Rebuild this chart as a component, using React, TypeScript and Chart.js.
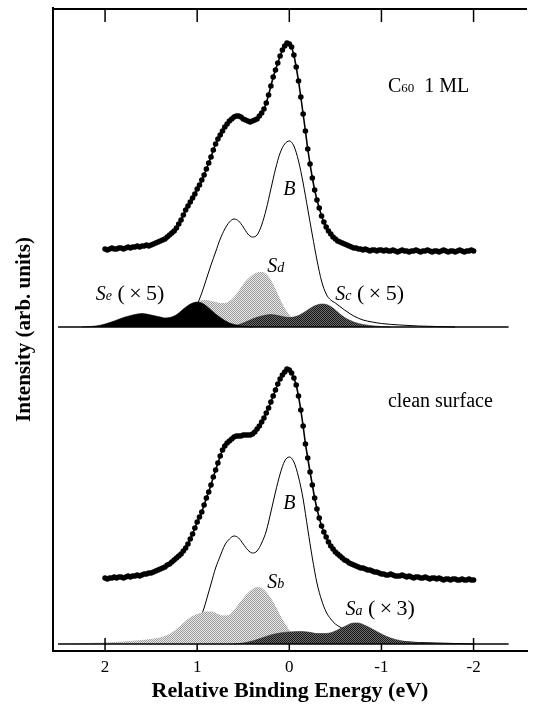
import { useEffect, useRef } from "react";
import { Chart, registerables } from "chart.js";

Chart.register(...registerables);

// Relative binding energy grid of the measured spectra (eV)
const energy = [
  2.0, 1.975, 1.95, 1.925, 1.9, 1.875, 1.85, 1.825, 1.8, 1.775,
  1.75, 1.725, 1.7, 1.675, 1.65, 1.625, 1.6, 1.575, 1.55, 1.525,
  1.5, 1.475, 1.45, 1.425, 1.4, 1.375, 1.35, 1.325, 1.3, 1.275,
  1.25, 1.225, 1.2, 1.175, 1.15, 1.125, 1.1, 1.075, 1.05, 1.025,
  1.0, 0.975, 0.95, 0.925, 0.9, 0.875, 0.85, 0.825, 0.8, 0.775,
  0.75, 0.725, 0.7, 0.675, 0.65, 0.625, 0.6, 0.575, 0.55, 0.525,
  0.5, 0.475, 0.45, 0.425, 0.4, 0.375, 0.35, 0.325, 0.3, 0.275,
  0.25, 0.225, 0.2, 0.175, 0.15, 0.125, 0.1, 0.075, 0.05, 0.025,
  0.0, -0.025, -0.05, -0.075, -0.1, -0.125, -0.15, -0.175, -0.2, -0.225,
  -0.25, -0.275, -0.3, -0.325, -0.35, -0.375, -0.4, -0.425, -0.45, -0.475,
  -0.5, -0.525, -0.55, -0.575, -0.6, -0.625, -0.65, -0.675, -0.7, -0.725,
  -0.75, -0.775, -0.8, -0.825, -0.85, -0.875, -0.9, -0.925, -0.95, -0.975,
  -1.0, -1.025, -1.05, -1.075, -1.1, -1.125, -1.15, -1.175, -1.2, -1.225,
  -1.25, -1.275, -1.3, -1.325, -1.35, -1.375, -1.4, -1.425, -1.45, -1.475,
  -1.5, -1.525, -1.55, -1.575, -1.6, -1.625, -1.65, -1.675, -1.7, -1.725,
  -1.75, -1.775, -1.8, -1.825, -1.85, -1.875, -1.9, -1.925, -1.95, -1.975,
  -2.0,
];

// C60 1 ML spectrum (arb. units)
const c60Data = [
  78, 77, 78, 79, 78, 78, 79, 79, 78, 79,
  80, 79, 80, 80, 81, 80, 81, 81, 82, 81,
  82, 83, 84, 85, 86, 87, 88, 90, 92, 94,
  96, 99, 103, 107, 112, 117, 121, 125, 129, 133,
  138, 142, 147, 152, 158, 164, 170, 177, 183, 188,
  192, 196, 200, 203, 206, 208, 210, 211, 211, 210,
  208, 207, 206, 205, 206, 207, 208, 211, 214, 218,
  224, 232, 241, 250, 257, 264, 271, 277, 281, 284,
  283, 280, 272, 260, 246, 230, 213, 196, 178, 163,
  149, 137, 127, 119, 111, 105, 100, 96, 93, 90,
  88, 86, 85, 84, 83, 82, 81, 80, 79, 79,
  78, 78, 77, 78, 77, 76, 77, 77, 76, 77,
  77, 76, 77, 76, 76, 77, 76, 75, 76, 77,
  76, 76, 75, 76, 76, 77, 76, 75, 76, 76,
  77, 76, 75, 76, 76, 75, 76, 77, 76, 75,
  76, 76, 75, 76, 77, 76, 75, 76, 76, 77,
  76,
];

// clean surface spectrum (arb. units)
const cleanData = [
  66, 65, 66, 66, 67, 66, 67, 67, 66, 67,
  68, 67, 68, 68, 69, 68, 69, 70, 70, 71,
  71, 72, 73, 74, 75, 76, 77, 79, 80, 82,
  84, 86, 88, 90, 93, 96, 100, 105, 110, 116,
  122, 127, 132, 139, 146, 152, 159, 167, 174, 181,
  188, 194, 198, 201, 203, 205, 207, 208, 208, 208,
  209, 209, 209, 209, 210, 212, 215, 218, 222, 226,
  231, 236, 242, 248, 254, 260, 265, 269, 272, 275,
  274, 271, 266, 259, 248, 234, 218, 200, 186, 172,
  159, 146, 135, 126, 118, 112, 107, 102, 98, 95,
  92, 90, 88, 86, 84, 83, 81, 80, 79, 78,
  77, 76, 76, 75, 74, 74, 73, 72, 72, 71,
  70, 70, 69, 69, 70, 69, 68, 68, 68, 69,
  68, 67, 68, 67, 66, 67, 67, 66, 66, 67,
  66, 65, 66, 66, 65, 66, 65, 64, 65, 65,
  64, 65, 65, 64, 64, 65, 64, 64, 65, 64,
  64,
];

// Fitted components [energy, intensity]
const bC60 = [
  [1.1, 6], [1.05, 14], [1.0, 22], [0.975, 28], [0.95, 34], [0.9, 48], [0.85, 62], [0.8, 75],
  [0.75, 88], [0.7, 98], [0.65, 105], [0.6, 108], [0.55, 106], [0.5, 100], [0.45, 93], [0.4, 90],
  [0.35, 92], [0.3, 102], [0.25, 118], [0.2, 138], [0.15, 158], [0.1, 174], [0.05, 183], [0.0, 186],
  [-0.05, 181], [-0.1, 166], [-0.15, 144], [-0.2, 118], [-0.25, 92], [-0.3, 67], [-0.35, 46],
  [-0.4, 33], [-0.45, 27], [-0.5, 24], [-0.55, 20.5], [-0.6, 17], [-0.7, 11], [-0.8, 7], [-0.9, 5],
  [-1.0, 3.5], [-1.2, 2], [-1.4, 1], [-1.6, 0.5], [-1.8, 0],
];
const sdC60 = [
  [1.3, 0], [1.2, 4], [1.1, 12], [1.0, 22], [0.95, 27], [0.9, 27], [0.85, 26], [0.8, 25], [0.75, 24],
  [0.7, 24], [0.65, 26], [0.6, 30], [0.55, 36], [0.5, 43], [0.45, 48], [0.4, 52], [0.35, 54.5],
  [0.3, 55], [0.25, 53], [0.2, 47], [0.15, 38], [0.1, 28], [0.05, 19], [0.0, 12], [-0.05, 7],
  [-0.1, 4], [-0.15, 2], [-0.2, 0.8], [-0.3, 0],
];
const seC60 = [
  [2.25, 0], [2.2, 0.3], [2.1, 1], [2.0, 3], [1.9, 6], [1.8, 9.5], [1.7, 12], [1.65, 13], [1.6, 13.5],
  [1.55, 13], [1.5, 12], [1.45, 11], [1.4, 10], [1.35, 9], [1.3, 9.5], [1.25, 11], [1.2, 14],
  [1.15, 18], [1.1, 21.5], [1.05, 24], [1.0, 25], [0.95, 24], [0.9, 21], [0.85, 17], [0.8, 13],
  [0.75, 9.5], [0.7, 6.5], [0.65, 4], [0.6, 2.5], [0.55, 1.5], [0.5, 0.8], [0.45, 0.3], [0.4, 0],
];
const scC60 = [
  [0.7, 0], [0.6, 1], [0.5, 4], [0.4, 8], [0.3, 11], [0.25, 12], [0.2, 12.5], [0.15, 12], [0.1, 11],
  [0.05, 10], [0.0, 9.5], [-0.05, 10], [-0.1, 11.5], [-0.15, 14], [-0.2, 17], [-0.25, 20], [-0.3, 22],
  [-0.35, 23], [-0.4, 22.5], [-0.45, 20.5], [-0.5, 17], [-0.55, 13], [-0.6, 9.5], [-0.65, 7],
  [-0.7, 5], [-0.75, 3.5], [-0.8, 2.5], [-0.9, 1.2], [-1.0, 0.5], [-1.1, 0],
];
const bClean = [
  [1.1, 8], [1.0, 22], [0.95, 30], [0.925, 36], [0.9, 44], [0.85, 60], [0.8, 76], [0.75, 88],
  [0.7, 99], [0.65, 105], [0.6, 108], [0.55, 106], [0.5, 100], [0.45, 94], [0.4, 91], [0.35, 93],
  [0.3, 101], [0.25, 113], [0.2, 132], [0.15, 152], [0.1, 170], [0.05, 183], [0.0, 187],
  [-0.05, 182], [-0.1, 167], [-0.15, 145], [-0.2, 115], [-0.25, 86], [-0.3, 61], [-0.35, 44],
  [-0.4, 32], [-0.45, 25], [-0.5, 20], [-0.55, 17], [-0.6, 14], [-0.7, 10], [-0.8, 7], [-1.0, 4],
  [-1.2, 2.5], [-1.4, 1.5], [-1.6, 1], [-1.8, 0.5], [-2.0, 0],
];
const sbClean = [
  [2.5, 0], [2.2, 1], [2.0, 1.5], [1.8, 2.5], [1.6, 4], [1.5, 5], [1.4, 6.5], [1.35, 8], [1.3, 10],
  [1.25, 13], [1.2, 17], [1.15, 21], [1.1, 25], [1.05, 28], [1.0, 30], [0.95, 31.5], [0.9, 32.5],
  [0.85, 32.5], [0.8, 31], [0.75, 29], [0.7, 28.5], [0.65, 29.5], [0.6, 34], [0.55, 40], [0.5, 46],
  [0.45, 51], [0.4, 55], [0.35, 57], [0.3, 56], [0.25, 52], [0.2, 46], [0.15, 38], [0.1, 29],
  [0.05, 21], [0.0, 14], [-0.05, 9], [-0.1, 5], [-0.15, 3], [-0.2, 1.5], [-0.3, 0],
];
const saClean = [
  [0.6, 0], [0.5, 1], [0.4, 3], [0.3, 6], [0.2, 9], [0.1, 11], [0.0, 12], [-0.1, 12.5], [-0.2, 12],
  [-0.3, 10.5], [-0.4, 10.5], [-0.5, 13], [-0.6, 17.5], [-0.7, 21], [-0.75, 21], [-0.8, 19.5],
  [-0.9, 15], [-1.0, 10], [-1.1, 6], [-1.2, 3.5], [-1.3, 2], [-1.4, 1.2], [-1.6, 0.5], [-1.8, 0],
];
const baseline = [[2.51, 0], [-2.38, 0]];

const xTicks = [2, 1, 0, -1, -2];

const SERIF = '"Liberation Serif", "Times New Roman", serif';

type Part = { t: string; s: number; i?: boolean };
const annotations: { axis: string; x: number; y: number; center?: boolean; parts: Part[] }[] = [
  { axis: "yTop", x: -1.07, y: 242, parts: [{ t: "C", s: 20 }, { t: "60", s: 13 }, { t: "  1 ML", s: 20 }] },
  { axis: "yTop", x: 0.0, y: 139, center: true, parts: [{ t: "B", s: 20, i: true }] },
  { axis: "yTop", x: 0.24, y: 62, parts: [{ t: "S", s: 20, i: true }, { t: "d", s: 14, i: true }] },
  { axis: "yTop", x: 2.1, y: 34, parts: [{ t: "S", s: 20, i: true }, { t: "e", s: 14, i: true }, { t: " (\u2009×\u20095)", s: 22 }] },
  { axis: "yTop", x: -0.5, y: 34, parts: [{ t: "S", s: 20, i: true }, { t: "c", s: 14, i: true }, { t: " (\u2009×\u20095)", s: 22 }] },
  { axis: "yBot", x: -1.07, y: 244, parts: [{ t: "clean surface", s: 20 }] },
  { axis: "yBot", x: 0.0, y: 142, center: true, parts: [{ t: "B", s: 20, i: true }] },
  { axis: "yBot", x: 0.24, y: 63, parts: [{ t: "S", s: 20, i: true }, { t: "b", s: 14, i: true }] },
  { axis: "yBot", x: -0.61, y: 36, parts: [{ t: "S", s: 20, i: true }, { t: "a", s: 14, i: true }, { t: " (\u2009×\u20093)", s: 22 }] },
];

function pts(pairs: number[][]) {
  return pairs.map(([x, y]) => ({ x, y }));
}

function makePattern(ctx: CanvasRenderingContext2D, a: string, b: string) {
  const c = document.createElement("canvas");
  c.width = 2;
  c.height = 2;
  const g = c.getContext("2d")!;
  g.fillStyle = a;
  g.fillRect(0, 0, 2, 2);
  g.fillStyle = b;
  g.fillRect(0, 0, 1, 1);
  g.fillRect(1, 1, 1, 1);
  return ctx.createPattern(c, "repeat")!;
}

const framePlugin = {
  id: "frameTicks",
  afterDraw(chart: any) {
    const { ctx, chartArea: a, scales } = chart;
    const x = scales.x;
    ctx.save();
    ctx.strokeStyle = "#000";
    ctx.lineWidth = 2;
    ctx.beginPath();
    ctx.moveTo(a.left - 1, a.top + 1);
    ctx.lineTo(a.right, a.top + 1);
    ctx.stroke();
    ctx.lineWidth = 1.5;
    for (const v of xTicks) {
      const px = x.getPixelForValue(v);
      ctx.beginPath();
      ctx.moveTo(px, a.top);
      ctx.lineTo(px, a.top + 14);
      ctx.stroke();
      const len = Math.abs(v) === 2 ? 13 : 7;
      ctx.beginPath();
      ctx.moveTo(px, a.bottom);
      ctx.lineTo(px, a.bottom - len);
      ctx.stroke();
    }
    ctx.restore();
  },
};

const labelPlugin = {
  id: "panelLabels",
  afterDraw(chart: any) {
    const { ctx, scales } = chart;
    ctx.save();
    ctx.fillStyle = "#000";
    ctx.textBaseline = "alphabetic";
    ctx.textAlign = "left";
    for (const an of annotations) {
      const fontOf = (p: Part) => `${p.i ? "italic " : ""}${p.s}px ${SERIF}`;
      let w = 0;
      for (const p of an.parts) {
        ctx.font = fontOf(p);
        w += ctx.measureText(p.t).width;
      }
      let px = scales.x.getPixelForValue(an.x);
      if (an.center) px -= w / 2;
      const main = an.parts[0].s;
      const py = scales[an.axis].getPixelForValue(an.y) + main * 0.33;
      for (const p of an.parts) {
        ctx.font = fontOf(p);
        ctx.fillText(p.t, px, py);
        px += ctx.measureText(p.t).width;
      }
    }
    ctx.restore();
  },
};

export default function App() {
  const ref = useRef<HTMLCanvasElement>(null);

  useEffect(() => {
    const canvas = ref.current!;
    const ctx = canvas.getContext("2d")!;
    const light = makePattern(ctx, "#e8e8e8", "#9c9c9c");
    const dark = makePattern(ctx, "#6e6e6e", "#161616");

    const fitLine = (data: number[][], axis: string, order: number) => ({
      data: pts(data),
      yAxisID: axis,
      order,
      borderColor: "#000",
      borderWidth: 1,
      pointRadius: 0,
      fill: false,
      cubicInterpolationMode: "monotone",
    });
    const fitArea = (data: number[][], axis: string, order: number, bg: any, border: string) => ({
      data: pts(data),
      yAxisID: axis,
      order,
      borderColor: border,
      borderWidth: 0.6,
      backgroundColor: bg,
      pointRadius: 0,
      fill: "origin",
      cubicInterpolationMode: "monotone",
    });
    const spectrum = (vals: number[], axis: string) => ({
      data: energy.map((x, i) => ({ x, y: vals[i] })),
      yAxisID: axis,
      order: 0,
      borderColor: "#000",
      borderWidth: 1.6,
      pointRadius: 2.8,
      pointBackgroundColor: "#000",
      pointBorderWidth: 0,
      fill: false,
      tension: 0,
    });

    const chart = new Chart(ctx, {
      type: "line",
      data: {
        datasets: [
          spectrum(c60Data, "yTop"),
          spectrum(cleanData, "yBot"),
          { ...fitLine(baseline, "yTop", 1), borderWidth: 1.3, cubicInterpolationMode: "default" },
          { ...fitLine(baseline, "yBot", 1), borderWidth: 1.3, cubicInterpolationMode: "default" },
          fitArea(seC60, "yTop", 2, "#000", "#000"),
          fitArea(scC60, "yTop", 2, dark, "#333"),
          fitArea(saClean, "yBot", 2, dark, "#333"),
          fitArea(sdC60, "yTop", 3, light, "rgba(0,0,0,0)"),
          fitArea(sbClean, "yBot", 3, light, "rgba(0,0,0,0)"),
          fitLine(bC60, "yTop", 4),
          fitLine(bClean, "yBot", 4),
        ] as any,
      },
      options: {
        animation: false,
        responsive: false,
        devicePixelRatio: 1,
        events: [],
        layout: { padding: { top: 8, right: 15, left: 0, bottom: 0 } },
        plugins: {
          legend: { display: false },
          tooltip: { enabled: false },
        },
        scales: {
          x: {
            type: "linear",
            position: "bottom",
            reverse: true,
            min: -2.58,
            max: 2.565,
            afterBuildTicks: (s: any) => {
              s.ticks = xTicks.map((v) => ({ value: v }));
            },
            afterFit: (s: any) => {
              s.height = 61;
            },
            grid: { display: false, drawTicks: false },
            border: { display: true, color: "#000", width: 2 },
            ticks: {
              color: "#000",
              padding: 6,
              font: { family: SERIF, size: 17 },
              callback: (v: any) => String(v),
            },
            title: {
              display: true,
              text: "Relative Binding Energy (eV)",
              color: "#000",
              font: { family: SERIF, size: 22, weight: "bold" },
              padding: { top: 0, bottom: 7 },
            },
          },
          yBot: {
            type: "linear",
            position: "left",
            stack: "panels",
            stackWeight: 1,
            weight: 1,
            min: -7,
            max: 314.5,
            grid: { display: false },
            ticks: { display: false },
            border: { display: true, color: "#000", width: 2 },
            afterFit: (s: any) => {
              s.width = 13;
            },
          },
          yTop: {
            type: "linear",
            position: "left",
            stack: "panels",
            stackWeight: 1,
            weight: 2,
            min: -2.5,
            max: 319,
            grid: { display: false },
            ticks: { display: false },
            border: { display: true, color: "#000", width: 2 },
            afterFit: (s: any) => {
              s.width = 13;
            },
          },
          yTitle: {
            type: "linear",
            position: "left",
            weight: 10,
            grid: { display: false },
            ticks: { display: false },
            border: { display: false },
            title: {
              display: true,
              text: "Intensity (arb. units)",
              color: "#000",
              font: { family: SERIF, size: 21, weight: "bold" },
              padding: { top: 12, bottom: 0 },
            },
            afterFit: (s: any) => {
              s.width = 40;
            },
          },
        },
      } as any,
      plugins: [framePlugin, labelPlugin],
    });
    return () => chart.destroy();
  }, []);

  return (
    <div style={{ position: "absolute", left: 0, top: 0, width: 542, height: 712, background: "#fff" }}>
      <canvas ref={ref} width={542} height={712} style={{ display: "block", width: 542, height: 712 }} />
    </div>
  );
}
